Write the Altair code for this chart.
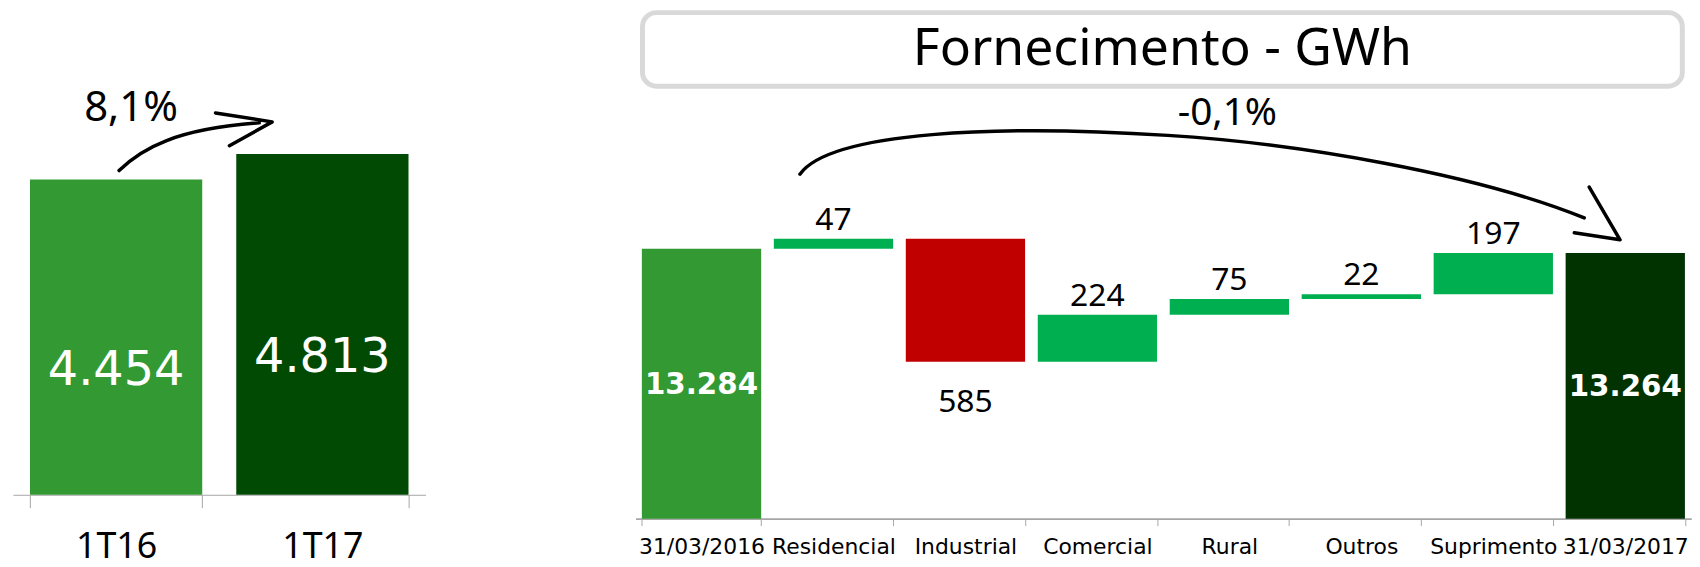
import altair as alt
import pandas as pd

# ---------------- data ----------------
periods = ["1T16", "1T17"]
period_values = [4454, 4813]
growth_label = "8,1%"

title_text = "Fornecimento - GWh"
wf_start_label = "31/03/2016"
wf_start_value = 13284
wf_cats = ["Residencial", "Industrial", "Comercial", "Rural", "Outros", "Suprimento"]
wf_changes = [47, -585, 224, 75, 22, 197]
wf_end_label = "31/03/2017"
wf_end_value = 13264
wf_change_label = "-0,1%"

# ---------------- styles ----------------
LEFT_COLORS = ["#339933", "#004a04"]
WF_KINDS = ["inicio", "aumento", "reducao", "fim"]
WF_COLORS = ["#339933", "#00b050", "#c00000", "#003300"]
Y_MIN = 12000          # waterfall axis floor (truncated axis)
Y_MAX = 14024
AXIS_GRAY = "#a6a6a6"

# hand-drawn arrow glyphs (symbol paths, in px relative to the anchor point)
LEFT_ARROW = "M 3 -9 C 25 -31 60 -51 144 -57 M 100 -67 L 157 -58 L 114 -34"
WF_ARROW = ("M 99 -75 C 130 -118 300 -125 469 -114 C 600 -106 780 -75 888 -31 "
            "M 893 -62 L 924 -9 L 878 -16")


def fmt(v):
    return f"{v:,}".replace(",", ".")


# ---------------- left chart ----------------
left_df = pd.DataFrame({"period": periods, "value": period_values})
left_df["mid"] = left_df["value"] / 2
left_df["label"] = left_df["value"].map(fmt)

growth_df = pd.DataFrame({"period": [periods[0]], "value": [period_values[0]],
                          "label": [growth_label]})

x_left = alt.X(
    "period:N", sort=periods,
    scale=alt.Scale(paddingInner=0.165, paddingOuter=0.0825),
    axis=alt.Axis(title=None, labelFont="Noto Sans", labelFontSize=36,
                  labelColor="black", labelPadding=22, tickSize=13,
                  tickColor=AXIS_GRAY, domainColor=AXIS_GRAY, tickBand="extent",
                  labelAngle=0),
)
y_left_scale = alt.Scale(domain=[0, 6812])

left_bars = alt.Chart(left_df).mark_bar().encode(
    x=x_left,
    y=alt.Y("value:Q", scale=y_left_scale, axis=None),
    color=alt.Color("period:N", scale=alt.Scale(domain=periods, range=LEFT_COLORS),
                    legend=None),
)
left_vals = alt.Chart(left_df).mark_text(
    font="DejaVu Sans", fontSize=48, color="white", baseline="middle", dy=34
).encode(x=x_left, y=alt.Y("mid:Q", scale=y_left_scale, axis=None), text="label:N")

left_arrow = alt.Chart(growth_df).mark_point(
    shape=LEFT_ARROW, size=4, filled=False, color="black", strokeWidth=3.5,
    opacity=1, strokeCap="round", strokeJoin="round"
).encode(x=x_left, y=alt.Y("value:Q", scale=y_left_scale, axis=None))

left_growth = alt.Chart(growth_df).mark_text(
    font="Noto Sans", fontSize=42, color="black", baseline="alphabetic", dx=15, dy=-59
).encode(x=x_left, y=alt.Y("value:Q", scale=y_left_scale, axis=None), text="label:N")

left = alt.layer(left_bars, left_vals, left_arrow, left_growth).properties(
    width=415, height=485
)

# ---------------- waterfall ----------------
rows = [dict(cat=wf_start_label, top=wf_start_value, bottom=Y_MIN, kind="inicio",
             label=fmt(wf_start_value))]
running = wf_start_value
for c, d in zip(wf_cats, wf_changes):
    new = running + d
    rows.append(dict(cat=c, top=max(running, new), bottom=min(running, new),
                     kind="aumento" if d > 0 else "reducao", label=fmt(abs(d))))
    running = new
rows.append(dict(cat=wf_end_label, top=wf_end_value, bottom=Y_MIN, kind="fim",
                 label=fmt(wf_end_value)))
wf_df = pd.DataFrame(rows)
wf_df["mid"] = (wf_df["top"] + wf_df["bottom"]) / 2
order = [wf_start_label] + wf_cats + [wf_end_label]

x_wf = alt.X(
    "cat:N", sort=order,
    scale=alt.Scale(paddingInner=0.096, paddingOuter=0.048),
    axis=alt.Axis(title=None, labelFont="DejaVu Sans", labelFontSize=22,
                  labelColor="black", labelPadding=11, tickSize=7,
                  tickColor=AXIS_GRAY, domainColor=AXIS_GRAY, domainWidth=2,
                  tickBand="extent", labelAngle=0),
)
y_wf_scale = alt.Scale(domain=[Y_MIN, Y_MAX], zero=False)

wf_bars = alt.Chart(wf_df).mark_bar().encode(
    x=x_wf,
    y=alt.Y("top:Q", scale=y_wf_scale, axis=None),
    y2="bottom:Q",
    color=alt.Color("kind:N", scale=alt.Scale(domain=WF_KINDS, range=WF_COLORS),
                    legend=None),
)
wf_up = alt.Chart(wf_df).transform_filter(alt.datum.kind == "aumento").mark_text(
    font="Noto Sans", fontSize=32, color="black", baseline="alphabetic", dy=-9
).encode(x=x_wf, y=alt.Y("top:Q", scale=y_wf_scale, axis=None), text="label:N")
wf_down = alt.Chart(wf_df).transform_filter(alt.datum.kind == "reducao").mark_text(
    font="Noto Sans", fontSize=32, color="black", baseline="top", dy=25
).encode(x=x_wf, y=alt.Y("bottom:Q", scale=y_wf_scale, axis=None), text="label:N")
wf_tot = alt.Chart(wf_df).transform_filter(
    (alt.datum.kind == "inicio") | (alt.datum.kind == "fim")
).mark_text(
    font="DejaVu Sans", fontSize=29.5, fontWeight="bold", color="white",
    baseline="middle", dy=1
).encode(x=x_wf, y=alt.Y("mid:Q", scale=y_wf_scale, axis=None), text="label:N")

chg_df = pd.DataFrame({"cat": [wf_start_label], "top": [wf_start_value],
                       "label": [wf_change_label]})
wf_arrow = alt.Chart(chg_df).mark_point(
    shape=WF_ARROW, size=4, filled=False, color="black", strokeWidth=3.5,
    opacity=1, strokeCap="round", strokeJoin="round"
).encode(x=x_wf, y=alt.Y("top:Q", scale=y_wf_scale, axis=None))
wf_chg = alt.Chart(chg_df).mark_text(
    font="Noto Sans", fontSize=39, color="black", baseline="alphabetic",
    dx=529, dy=-124
).encode(x=x_wf, y=alt.Y("top:Q", scale=y_wf_scale, axis=None), text="label:N")

waterfall = alt.layer(wf_bars, wf_up, wf_down, wf_tot, wf_arrow, wf_chg).properties(
    width=1062, height=428
)

title_df = pd.DataFrame({"t": [title_text]})
title_box = alt.Chart(title_df).mark_text(
    font="Noto Sans", fontSize=52, color="black", baseline="alphabetic", dy=16
).encode(text="t:N").properties(
    width=1046, height=74,
    view=alt.ViewBackground(stroke="#d9d9d9", strokeWidth=5, cornerRadius=14,
                            fill="white"),
)

right = alt.vconcat(title_box, waterfall, spacing=3, center=True)

chart = alt.hconcat(left, right, spacing=209).properties(
    padding={"left": 4, "top": 0, "right": 0, "bottom": 0}
).resolve_scale(color="independent").configure_view(stroke="transparent")

chart.save("out.html", embed_options={"renderer": "svg", "actions": False})
